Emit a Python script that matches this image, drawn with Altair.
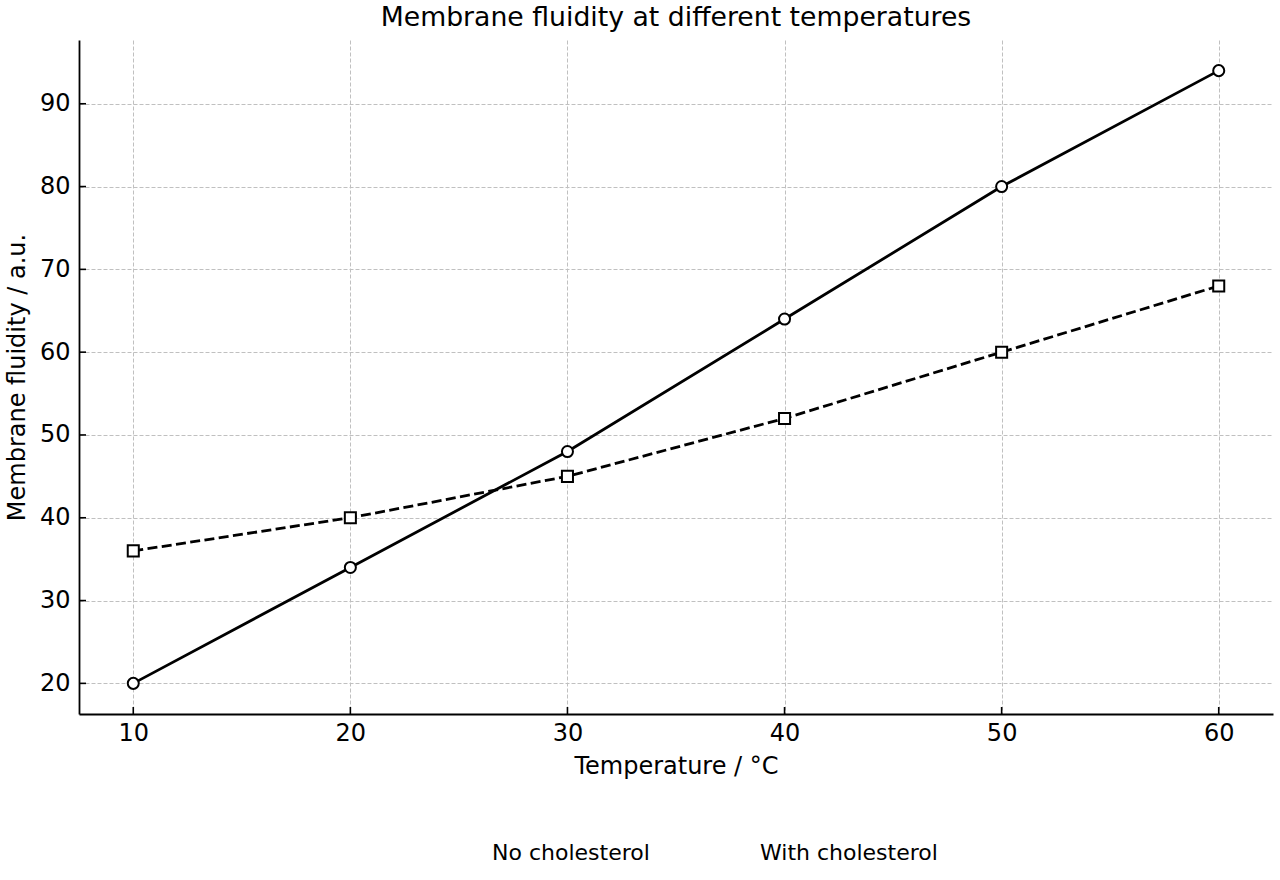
import altair as alt
import pandas as pd

# Membrane fluidity (a.u.) measured at each temperature (°C)
temperature = [10, 20, 30, 40, 50, 60]
no_cholesterol = [20, 34, 48, 64, 80, 94]
with_cholesterol = [36, 40, 45, 52, 60, 68]
series_names = ["No cholesterol", "With cholesterol"]
series_markers = ["circle", "square"]

x_ticks = [10, 20, 30, 40, 50, 60]
y_ticks = [20, 30, 40, 50, 60, 70, 80, 90]

df = pd.DataFrame({
    "Temperature": temperature + temperature,
    "Fluidity": no_cholesterol + with_cholesterol,
    "Series": [series_names[0]] * len(temperature) + [series_names[1]] * len(temperature),
})
x_tick_df = pd.DataFrame({"Temperature": x_ticks})
y_tick_df = pd.DataFrame({"Fluidity": y_ticks})

W, H = 1194, 674
FONT = "DejaVu Sans"
TICK_LEN = 7
GRID = dict(grid=True, gridColor="#c0c0c0", gridDash=[4, 2], gridWidth=1)

x_scale = alt.Scale(domain=[7.5, 62.5], nice=False, zero=False)
y_scale = alt.Scale(domain=[16.3, 97.7], nice=False, zero=False)

x_axis = alt.Axis(
    values=x_ticks, title="Temperature / °C", format="d",
    ticks=False, labelPadding=7, titlePadding=9, **GRID,
)
y_axis = alt.Axis(
    values=y_ticks, title="Membrane fluidity / a.u.", format="d",
    ticks=False, labelPadding=9, titlePadding=10, **GRID,
)

legend = alt.Legend(
    title=None, orient="none", direction="horizontal",
    legendX=358, legendY=802, padding=0,
    symbolSize=122, labelOffset=33, columnPadding=55, labelLimit=400,
    symbolFillColor="white", symbolStrokeColor="black",
    symbolStrokeWidth=2, symbolOpacity=1,
    labelFont=FONT, labelFontSize=22, labelColor="black",
)

x_enc = alt.X("Temperature:Q", scale=x_scale, axis=x_axis)
y_enc = alt.Y("Fluidity:Q", scale=y_scale, axis=y_axis)


def series(name):
    return alt.Chart(df).transform_filter(alt.datum.Series == name)


# Solid line for the first series, dashed line for the second
line_no = series(series_names[0]).mark_line(
    color="black", strokeWidth=2.8
).encode(x=x_enc, y=y_enc)
line_with = series(series_names[1]).mark_line(
    color="black", strokeWidth=2.8, strokeDash=[10, 4.4]
).encode(x=x_enc, y=y_enc)

# Open markers; their shape scale also drives the legend
markers = alt.Chart(df).mark_point(
    filled=True, fill="white", stroke="black", strokeWidth=2, opacity=1, size=122,
).encode(
    x=x_enc,
    y=y_enc,
    shape=alt.Shape(
        "Series:N",
        scale=alt.Scale(domain=series_names, range=series_markers),
        legend=legend,
    ),
)

# Inward-facing tick marks on the bottom and left axes
x_tick_marks = alt.Chart(x_tick_df).mark_rule(color="black", strokeWidth=1.6).encode(
    x=alt.X("Temperature:Q", scale=x_scale),
    y=alt.value(H),
    y2=alt.value(H - TICK_LEN),
)
y_tick_marks = alt.Chart(y_tick_df).mark_rule(color="black", strokeWidth=1.6).encode(
    y=alt.Y("Fluidity:Q", scale=y_scale),
    x=alt.value(0),
    x2=alt.value(TICK_LEN),
)

chart = alt.layer(
    line_no, line_with, x_tick_marks, y_tick_marks, markers
).properties(
    width=W, height=H,
    title=alt.TitleParams(
        "Membrane fluidity at different temperatures",
        font=FONT, fontSize=26.7, fontWeight="normal", color="black",
        anchor="middle", frame="group", offset=8,
    ),
    autosize=alt.AutoSizeParams(type="none"),
    padding={"left": 79, "top": 40, "right": 7, "bottom": 166},
).configure_view(stroke=None).configure_axis(
    domainColor="black", domainWidth=1.8,
    labelFont=FONT, labelFontSize=24, labelColor="black",
    titleFont=FONT, titleFontSize=24, titleFontWeight="normal", titleColor="black",
)

chart.save("out.html", embed_options={"renderer": "svg", "actions": False})
